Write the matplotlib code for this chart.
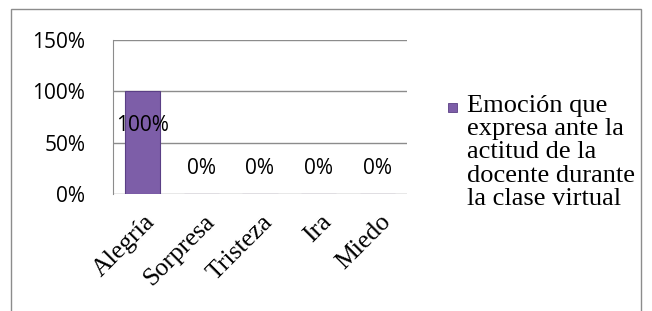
import matplotlib
matplotlib.use("Agg")
import matplotlib.pyplot as plt
import matplotlib.transforms as mtransforms
from matplotlib.patches import Rectangle

# -----------------------------
# Data
# -----------------------------

categories = ["Alegría", "Sorpresa", "Tristeza", "Ira", "Miedo"]
values = [100, 0, 0, 0, 0]
value_labels = ["100%", "0%", "0%", "0%", "0%"]
y_ticks = [0, 50, 100, 150]
y_tick_labels = ["0%", "50%", "100%", "150%"]
legend_label = "Emoción que\nexpresa ante la\nactitud de la\ndocente durante\nla clase virtual"

BAR_COLOR = "#7d5ea8"
GRID_COLOR = "#8c8c8c"

# -----------------------------
# Figure
# -----------------------------

fig = plt.figure(figsize=(6.52, 3.11), dpi=100)
ax = fig.add_axes([113 / 652, 1 - 194 / 311, (407 - 113) / 652, (194 - 40) / 311])

x = range(len(categories))
ax.bar(x, values, width=0.6, color=BAR_COLOR, edgecolor="#5a3f85", linewidth=0.8, zorder=3)

ax.set_xlim(-0.5, len(categories) - 0.5)
ax.set_ylim(0, 150)
ax.set_yticks(y_ticks)
ax.set_yticklabels(y_tick_labels, fontsize=15, family="Open Sans")
ax.set_xticks(list(x))
ax.set_xticklabels(categories, rotation=45, ha="right", va="top",
                   rotation_mode="anchor", fontsize=18.5, family="Liberation Serif")
ax.tick_params(axis="both", length=0)
ax.tick_params(axis="y", pad=20)
ax.tick_params(axis="x", pad=12)

# nudge x labels a little to the right
shift = mtransforms.ScaledTranslation(2 / 100, 0, fig.dpi_scale_trans)
for lab in ax.get_xticklabels():
    lab.set_transform(lab.get_transform() + shift)

ax.grid(axis="y", color=GRID_COLOR, linewidth=1, zorder=0)
for side in ["top", "right", "bottom"]:
    ax.spines[side].set_visible(False)
ax.spines["left"].set_color(GRID_COLOR)

# data labels
for i, (v, lab) in enumerate(zip(values, value_labels)):
    if v > 0:
        ax.text(i, v * 0.67, lab, ha="center", va="center", fontsize=15,
                family="Open Sans", zorder=4)
    else:
        ax.annotate(lab, (i, v), xytext=(0, 26), textcoords="offset pixels",
                    ha="center", va="center", fontsize=15, family="Open Sans", zorder=4)

# legend
fig.patches.append(Rectangle((448 / 652, 1 - 112 / 311), 9 / 652, 9 / 311,
                             transform=fig.transFigure, facecolor=BAR_COLOR,
                             edgecolor="#5a3f85", linewidth=0.6))
fig.text(467 / 652, 1 - 95 / 311, legend_label, ha="left", va="top",
         fontsize=19, family="Liberation Serif", linespacing=1.07)

# outer frame
fig.patches.append(Rectangle((11 / 652, -0.05), (641 - 11) / 652, 1.05 - 9 / 311,
                             transform=fig.transFigure, facecolor="none",
                             edgecolor="#8c8c8c", linewidth=1))

plt.savefig("out.png", dpi=100)
